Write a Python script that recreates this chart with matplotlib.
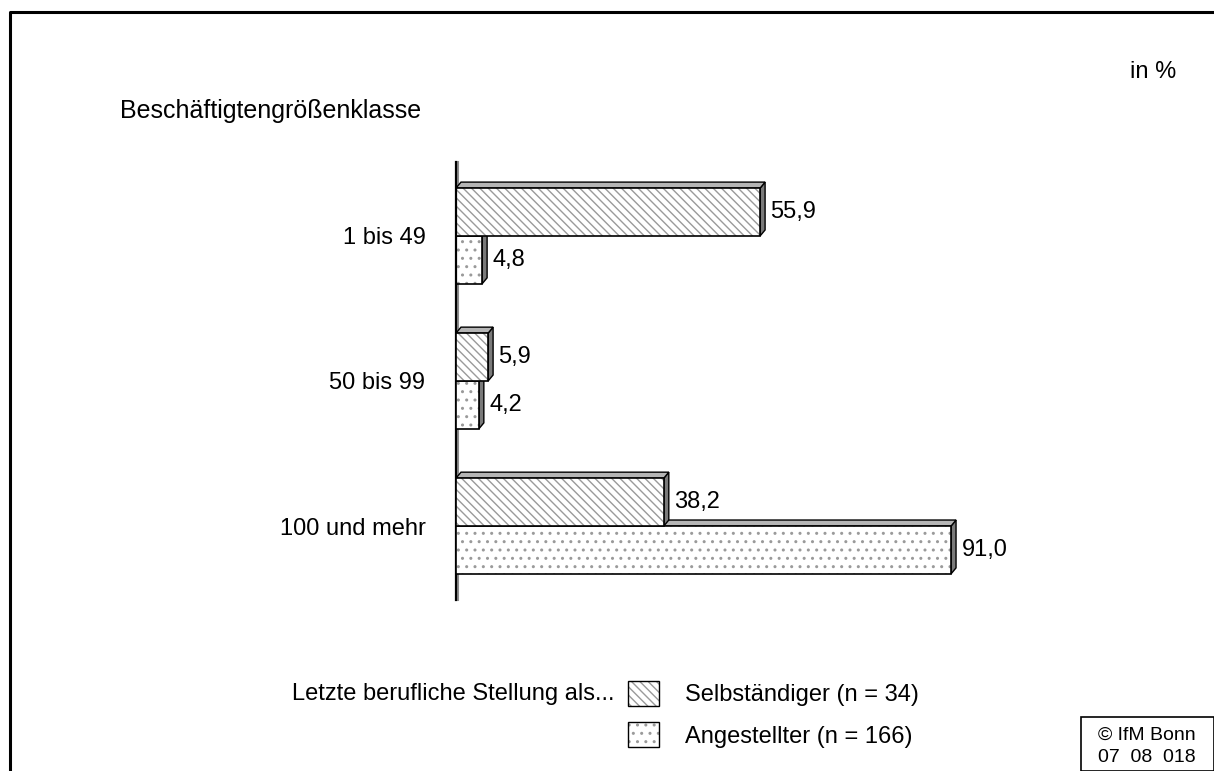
import matplotlib
matplotlib.use('Agg')
import matplotlib.pyplot as plt
import matplotlib.transforms as mtransforms
from matplotlib.patches import Polygon, Rectangle, Patch
from matplotlib.lines import Line2D
from matplotlib.legend_handler import HandlerTuple

categories = ['1 bis 49', '50 bis 99', '100 und mehr']
selbst = [55.9, 5.9, 38.2]
angest = [4.8, 4.2, 91.0]
series_labels = ['Selbständiger (n = 34)', 'Angestellter (n = 166)']
value_text = lambda v: f'{v:.1f}'.replace('.', ',')

plt.rcParams['font.family'] = ['Liberation Sans', 'DejaVu Sans']
plt.rcParams['hatch.color'] = '#9a9a9a'
plt.rcParams['hatch.linewidth'] = 1.0

W, H = 1214, 771
fig = plt.figure(figsize=(W / 100, H / 100), dpi=100)

def fx(px):
    return px / W

def fy(py):
    return 1 - py / H

# axes placed in pixel terms: zero line at x=456, 5.44 px per percent
ax = fig.add_axes([fx(456), fy(600), 544 / W, 438 / H])
ax.set_xlim(0, 100)
ax.set_ylim(2.51, -0.51)
for s in ['top', 'right', 'bottom']:
    ax.spines[s].set_visible(False)
ax.spines['left'].set_linewidth(1.6)
ax.set_xticks([])
ax.set_yticks(range(len(categories)), categories, fontsize=17)
ax.tick_params(axis='y', length=0, pad=22)

# grey shadow of the wall next to the axis line
shadow = mtransforms.offset_copy(ax.transData, fig=fig, x=2, y=0, units='dots')
ax.plot([0, 0], [-0.51, 2.51], color='#8c8c8c', lw=1.5, transform=shadow,
        clip_on=False, zorder=0)

bh = 0.33
dx = 5 * 100 / 544      # depth in data units (5 px)
dy = 6 * 3.02 / 438     # depth in data units (6 px)

HATCH_S = '\\\\\\\\'
HATCH_A = '..'

def bar3d(y_top, val, hatch, z):
    y_bot = y_top + bh
    side = Polygon([(val, y_top), (val + dx, y_top - dy), (val + dx, y_bot - dy),
                    (val, y_bot)], closed=True, facecolor='#7a7a7a',
                   edgecolor='black', lw=1, zorder=z)
    top = Polygon([(0, y_top), (dx, y_top - dy), (val + dx, y_top - dy),
                   (val, y_top)], closed=True, facecolor='#b5b5b5',
                  edgecolor='black', lw=1, zorder=z)
    ax.add_patch(side)
    ax.add_patch(top)
    ax.barh(y_top + bh / 2, val, height=bh, color='white', hatch=hatch, zorder=z)
    ax.barh(y_top + bh / 2, val, height=bh, fill=False, edgecolor='black',
            lw=1.2, zorder=z)
    ax.annotate(value_text(val), (val, y_top + bh / 2), xytext=(7.5, 0),
                textcoords='offset points', va='center', ha='left',
                fontsize=17, zorder=z)

for i in range(len(categories)):
    bar3d(i, angest[i], HATCH_A, 2 * i + 1)
    bar3d(i - bh, selbst[i], HATCH_S, 2 * i + 2)

# legend
h1 = (Patch(facecolor='white', hatch=HATCH_S), Patch(fill=False, edgecolor='black', lw=1))
h2 = (Patch(facecolor='white', hatch=HATCH_A), Patch(fill=False, edgecolor='black', lw=1))
fig.legend([h1, h2], series_labels,
           handler_map={tuple: HandlerTuple(ndivide=1, pad=0)},
           loc='upper left', bbox_to_anchor=(fx(628), fy(681)), frameon=False,
           fontsize=17, handlelength=1.3, handleheight=1.25, handletextpad=1.1,
           labelspacing=0.68, borderpad=0, borderaxespad=0)

fig.text(fx(614), fy(694), 'Letzte berufliche Stellung als...', ha='right',
         va='center', fontsize=17)
fig.text(fx(120), fy(111), 'Beschäftigtengrößenklasse', ha='left', va='center',
         fontsize=18)
fig.text(fx(1176), fy(72), 'in %', ha='right', va='center', fontsize=17)

# copyright box
fig.add_artist(Rectangle((fx(1081), 0), 1 - fx(1081), fy(717), transform=fig.transFigure,
                         fill=False, edgecolor='black', lw=1.2))
fig.text(fx(1098), fy(735), '© IfM Bonn', ha='left', va='center', fontsize=14)
fig.text(fx(1098), fy(757), '07  08  018', ha='left', va='center', fontsize=14)

# outer frame (left and top)
fig.add_artist(Line2D([fx(9.5), fx(9.5), 1], [0, fy(11.5), fy(11.5)],
                      transform=fig.transFigure, color='black', lw=2.2))

fig.savefig('out.png', dpi=100)
